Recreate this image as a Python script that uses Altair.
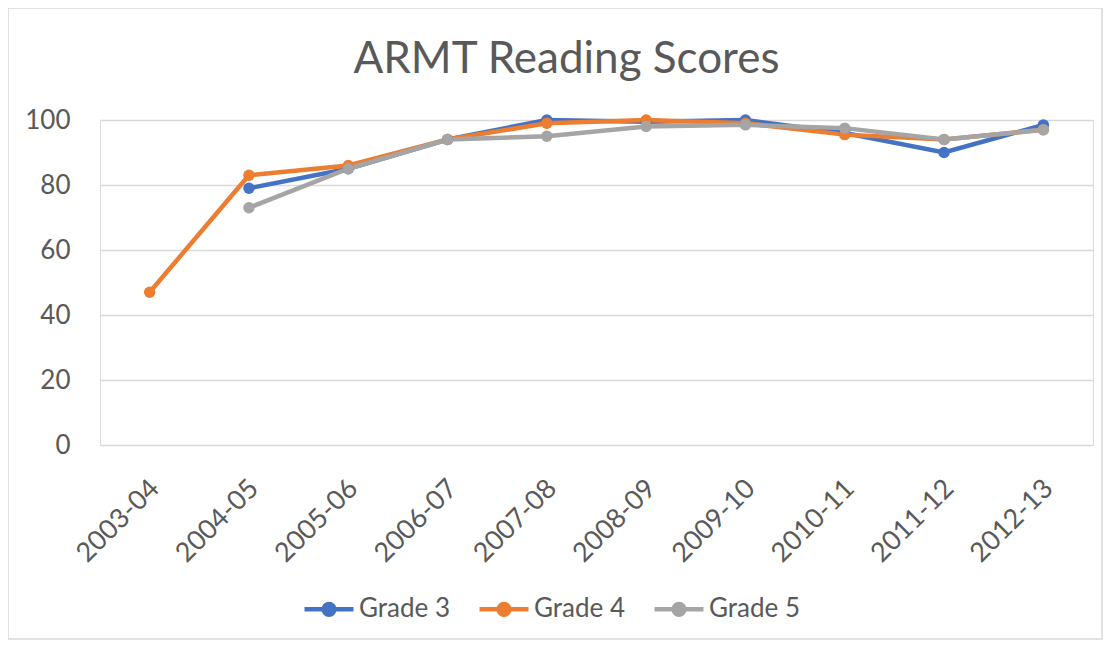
import altair as alt
import pandas as pd

years = ["2003-04", "2004-05", "2005-06", "2006-07", "2007-08",
         "2008-09", "2009-10", "2010-11", "2011-12", "2012-13"]
grade3 = [None, 79, 85, 94, 100, 99.5, 100, 96, 90, 98.5]
grade4 = [47, 83, 86, 94, 99, 100, 99, 95.5, 94, 97]
grade5 = [None, 73, 85, 94, 95, 98, 98.5, 97.5, 94, 97]
series = ["Grade 3", "Grade 4", "Grade 5"]
colors = ["#4472C4", "#ED7D31", "#A5A5A5"]

rows = []
for name, vals in zip(series, [grade3, grade4, grade5]):
    for y, v in zip(years, vals):
        if v is not None:
            rows.append({"Year": y, "Score": v, "Series": name})
df = pd.DataFrame(rows)

W, H = 993, 325
FONT = "Lato"
GRAY = "#595959"

x = alt.X("Year:N", sort=years, scale=alt.Scale(type="point", padding=0.5),
          axis=alt.Axis(title=None, labelAngle=315, labelAlign="right", labelBaseline="middle",
                        labelFontSize=27, labelColor=GRAY, labelFont=FONT, labelPadding=39,
                        labelOffset=5, ticks=False, domain=False, grid=False))
y = alt.Y("Score:Q", scale=alt.Scale(domain=[0, 100], nice=False),
          axis=alt.Axis(title=None, values=[0, 20, 40, 60, 80, 100], labelFontSize=26,
                        labelColor=GRAY, labelFont=FONT, labelPadding=30, ticks=False,
                        domain=False, gridColor="#d9d9d9", gridWidth=1.5))
color = alt.Color("Series:N", scale=alt.Scale(domain=series, range=colors),
                  legend=alt.Legend(title=None, orient="none", direction="horizontal",
                                    legendX=202, legendY=462, labelFontSize=26, labelColor=GRAY,
                                    labelFont=FONT, columnPadding=20, labelOffset=3,
                                    symbolType="M-1,0 H1 M0.22,0 A0.22,0.22 0 1,1 -0.22,0 A0.22,0.22 0 1,1 0.22,0",
                                    symbolSize=2400, symbolStrokeWidth=4.5))

base = alt.Chart(df).encode(x=x, y=y, color=color, detail="Series:N")
lines = base.mark_line(strokeWidth=4.5, clip=False)
points = base.mark_point(filled=True, size=130, opacity=1, clip=False)

frame = alt.Chart(pd.DataFrame({"a": [0]})).mark_rect(
    fill=None, stroke="#d9d9d9", strokeWidth=1.5
).encode(x=alt.value(-92), x2=alt.value(W + 9), y=alt.value(-112), y2=alt.value(H + 194))

chart = alt.layer(frame, lines, points).properties(
    width=W, height=H,
    title=alt.TitleParams("ARMT Reading Scores", fontSize=44, color=GRAY, font=FONT,
                          fontWeight="normal", anchor="middle", offset=-75, dx=-30),
    autosize=alt.AutoSizeParams(type="none"),
    padding={"left": 92, "top": 112, "right": 12, "bottom": 195},
).configure_view(stroke=None).configure(background="white")

chart.save("out.html", embed_options={"renderer": "svg", "actions": False})
